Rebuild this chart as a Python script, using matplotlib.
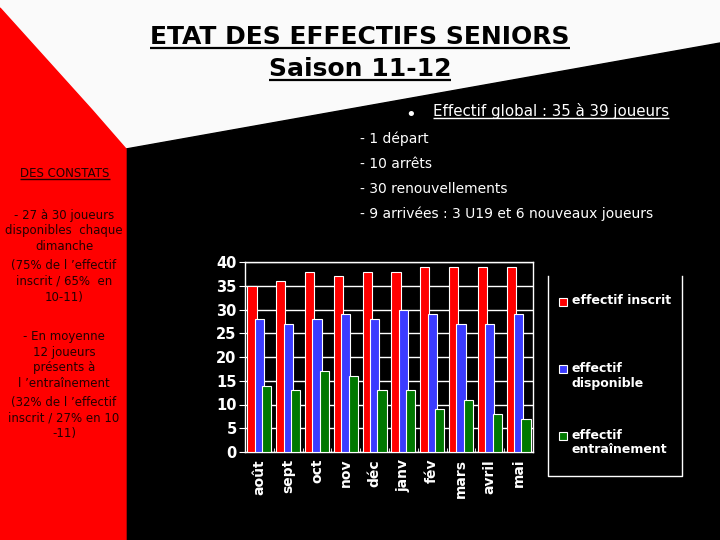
import matplotlib
matplotlib.use("Agg")
import matplotlib.pyplot as plt
from matplotlib.patches import Polygon, Rectangle
import numpy as np

# donnees
mois = ["août", "sept", "oct", "nov", "déc", "janv", "fév", "mars", "avril", "mai"]
inscrit = [35, 36, 38, 37, 38, 38, 39, 39, 39, 39]
disponible = [28, 27, 28, 29, 28, 30, 29, 27, 27, 29]
entrainement = [14, 13, 17, 16, 13, 13, 9, 11, 8, 7]
noms = ["effectif inscrit", "effectif\ndisponible", "effectif\nentraînement"]
couleurs = ["#ff0000", "#3b3bff", "#007800"]

titre1 = "ETAT DES EFFECTIFS SENIORS"
titre2 = "Saison 11-12"
puce = "Effectif global : 35 à 39 joueurs"
lignes = ["- 1 départ", "- 10 arrêts", "- 30 renouvellements",
          "- 9 arrivées : 3 U19 et 6 nouveaux joueurs"]
constats = ["- 27 à 30 joueurs\ndisponibles  chaque\ndimanche",
            "(75% de l ’effectif\ninscrit / 65%  en\n10-11)",
            "- En moyenne\n12 joueurs\nprésents à\nl ’entraînement",
            "(32% de l ’effectif\ninscrit / 27% en 10\n-11)"]

fig = plt.figure(figsize=(7.2, 5.4), dpi=100)
fig.patch.set_facecolor("#fafafa")

# fond de la diapo (coordonnees en pixels)
bg = fig.add_axes([0, 0, 1, 1])
bg.set_xlim(0, 720)
bg.set_ylim(540, 0)
bg.axis("off")
bg.add_patch(Polygon([(126, 149), (720, 43), (720, 540), (126, 540)], color="black"))
bg.add_patch(Polygon([(0, 8), (92, 110), (126, 149), (126, 540), (0, 540)], color="#ff0000"))


def souligne(t, dy, lw=1.2, color="black"):
    r = fig.canvas.get_renderer()
    bb = t.get_window_extent(r)
    inv = bg.transData.inverted()
    (x0, _), (x1, _) = inv.transform([(bb.x0, bb.y0), (bb.x1, bb.y0)])
    y = t.get_position()[1] + dy
    bg.plot([x0, x1], [y, y], color=color, lw=lw, solid_capstyle="butt")


t = bg.text(360, 44, titre1, ha="center", va="baseline", fontsize=18,
            fontweight="bold", color="black")
souligne(t, 3.5, lw=1.6)
t = bg.text(360, 76, titre2, ha="center", va="baseline", fontsize=18,
            fontweight="bold", color="black")
souligne(t, 3.5, lw=1.6)

bg.text(411, 120, "•", ha="center", va="baseline", fontsize=13, color="white")
t = bg.text(433, 116, puce, ha="left", va="baseline", fontsize=10.8, color="white")
souligne(t, 2, lw=1, color="white")

for i, l in enumerate(lignes):
    bg.text(360, 139 + 25 * i, l, ha="left", va="center", fontsize=10, color="white")

# colonne de gauche
c_txt = "#230000"
t = bg.text(65, 177, "DES CONSTATS", ha="center", va="baseline", fontsize=8.5, color=c_txt)
souligne(t, 2, lw=1, color=c_txt)
for yc, s in zip([230.5, 281.5, 360, 418], constats):
    bg.text(64, yc, s, ha="center", va="center", fontsize=8.5, color=c_txt,
            linespacing=1.25)

# graphique
ax = fig.add_axes([245 / 720, 88 / 540, 288 / 720, 190 / 540])
ax.set_facecolor("black")
x = np.arange(len(mois))
decal = [0.24, 0.50, 0.76]
for vals, col, d in zip([inscrit, disponible, entrainement], couleurs, decal):
    ax.bar(x + d, vals, width=0.32, color=col, edgecolor="white", linewidth=0.8, zorder=3)

ax.set_xlim(0, len(mois))
ax.set_ylim(0, 40)
ax.set_yticks(np.arange(0, 41, 5))
ax.yaxis.grid(True, color="white", lw=1)
ax.set_axisbelow(True)
ax.set_xticks(x + 0.5)
ax.set_xticklabels(mois, rotation=90, fontsize=10, fontweight="bold", color="white")
ax.set_xticks(np.arange(len(mois) + 1), minor=True)
ax.tick_params(axis="x", which="major", length=0, pad=5)
ax.tick_params(axis="x", which="minor", direction="in", length=3, color="white")
ax.tick_params(axis="y", colors="white", labelsize=10.5, length=4, pad=2)
for lab in ax.get_yticklabels():
    lab.set_fontweight("bold")
for sp in ax.spines.values():
    sp.set_color("white")
    sp.set_linewidth(1)

# legende
bg.plot([548, 548, 682, 682], [276, 476, 476, 276], color="white", lw=1)
for yc, yt, nom, col in zip([302, 369, 436], [301, 376, 442.5], noms, couleurs):
    bg.add_patch(Rectangle((559, yc - 4), 8, 8, facecolor=col, edgecolor="white", lw=0.8))
    bg.text(572, yt, nom, ha="left", va="center", fontsize=9, fontweight="bold",
            color="white", linespacing=1.15)

fig.savefig("out.png", dpi=100, facecolor=fig.get_facecolor())
